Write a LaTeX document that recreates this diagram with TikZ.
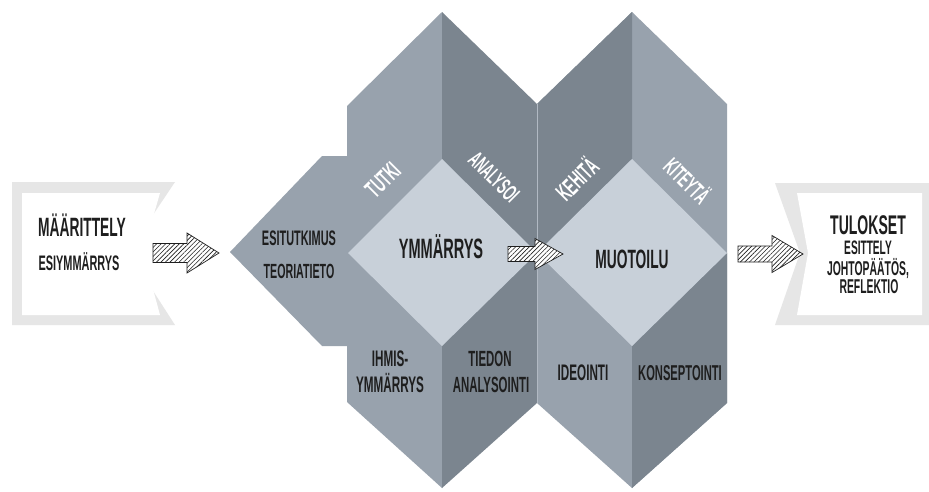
\documentclass[tikz,border=0pt]{standalone}
\usepackage{fontspec}
\setmainfont[FakeStretch=0.52]{Liberation Sans Bold}
\usetikzlibrary{patterns.meta}
\definecolor{midg}{HTML}{98A2AD}
\definecolor{darkg}{HTML}{7B858F}
\definecolor{lightg}{HTML}{C8D0D9}
\definecolor{frameg}{HTML}{E6E6E6}
\definecolor{ink}{HTML}{1E1E1E}
\begin{document}
\begin{tikzpicture}[x=1pt,y=-1pt,
  fs/.style={font=\fontsize{#1}{#1}\selectfont},
  lbl/.style={inner sep=0pt, anchor=base, text=ink},
  wlbl/.style={inner sep=0pt, text=white},
  hatch/.style={draw=ink, line width=0.7pt, preaction={fill=white},
    pattern={Lines[angle=45,distance=3.2pt,line width=0.6pt]}, pattern color=ink}]
\useasboundingbox (0,0) rectangle (929,491);
\fill[white] (0,0) rectangle (929,491);

% left flag
\fill[frameg] (12,182) -- (175,182) -- (128,252) -- (175,325) -- (12,325) -- cycle;
\fill[white] (22,193) -- (160,193) -- (143,252) -- (160,315) -- (22,315) -- cycle;
% right flag
\fill[frameg] (775,183) -- (929,183) -- (929,325) -- (775,325) -- (800,253) -- cycle;
\fill[white] (797,193) -- (922,193) -- (922,315) -- (797,315) -- (808,253) -- cycle;

% first block (YMMARRYS)
\fill[midg] (442,12) -- (347,106) -- (347,156) -- (322,156) -- (230,252) -- (322,346)
  -- (347,346) -- (347,402) -- (442,488) -- cycle;
\fill[darkg] (442,12) -- (537,104) -- (537,403) -- (442,488) -- cycle;
\fill[lightg] (442,159) -- (537,253) -- (442,346) -- (348,253) -- cycle;

% second block (MUOTOILU)
\fill[midg] (632,12) -- (727,104) -- (727,403) -- (632,488) -- (537,403) -- (537,104) -- cycle;
\fill[darkg] (632,12) -- (537,104) -- (537,253) -- (632,159) -- cycle;
\fill[darkg] (727,253) -- (727,403) -- (632,488) -- (632,346) -- cycle;
\fill[lightg] (632,159) -- (727,253) -- (632,346) -- (537,253) -- cycle;
\draw[lightg!70!darkg, line width=0.6pt] (537,104) -- (537,403);

% hatched arrows
\draw[hatch, shift={(153,253)}] (0,-9.5) -- (34,-9.5) -- (34,-20) -- (66,0) -- (34,20) -- (34,9.5) -- (0,9.5) -- cycle;
\draw[hatch, shift={(508,254)}] (0,-7.5) -- (27,-7.5) -- (27,-15.5) -- (55,0) -- (27,15.5) -- (27,7.5) -- (0,7.5) -- cycle;
\draw[hatch, shift={(738,254)}] (0,-8) -- (34,-8) -- (34,-18.5) -- (65,0) -- (34,18.5) -- (34,8) -- (0,8) -- cycle;

% left flag texts
\node[lbl, fs=26.5] (maar) at (82,236) {MÄÄRITTELY};
\node[lbl, fs=21] (esiy) at (79,270) {ESIYMMÄRRYS};

% first block texts
\node[lbl, fs=21] (esit) at (299,245) {ESITUTKIMUS};
\node[lbl, fs=20.5] (teor) at (299,278) {TEORIATIETO};
\node[lbl, fs=28] (ymm) at (441,258) {YMMÄRRYS};
\node[lbl, fs=22.5] (ihm1) at (390,366) {IHMIS-};
\node[lbl, fs=22.5] (ihm2) at (390,392) {YMMÄRRYS};
\node[lbl, fs=22] (tie1) at (490,366) {TIEDON};
\node[lbl, fs=22] (tie2) at (491,392) {ANALYSOINTI};
\node[wlbl, fs=25, rotate=45] (tutki) at (383,180) {TUTKI};
\node[wlbl, fs=23, rotate=-45] (anal) at (494,177) {ANALYSOI};

% second block texts
\node[lbl, fs=26.5] (muot) at (632,268) {MUOTOILU};
\node[lbl, fs=22.5] (ideo) at (583,380) {IDEOINTI};
\node[lbl, fs=21.5] (kons) at (680,380) {KONSEPTOINTI};
\node[wlbl, fs=25, rotate=45] (kehi) at (576,178) {KEHITÄ};
\node[wlbl, fs=24, rotate=-45] (kite) at (688,180) {KITEYTÄ};

% right flag texts
\node[lbl, fs=27] (tulo) at (868,234) {TULOKSET};
\node[lbl, fs=19.5] (esitt) at (868,254) {ESITTELY};
\node[lbl, fs=20] (joht) at (868,275) {JOHTOPÄÄTÖS,};
\node[lbl, fs=20] (refl) at (869,293) {REFLEKTIO};
\end{tikzpicture}
\end{document}
